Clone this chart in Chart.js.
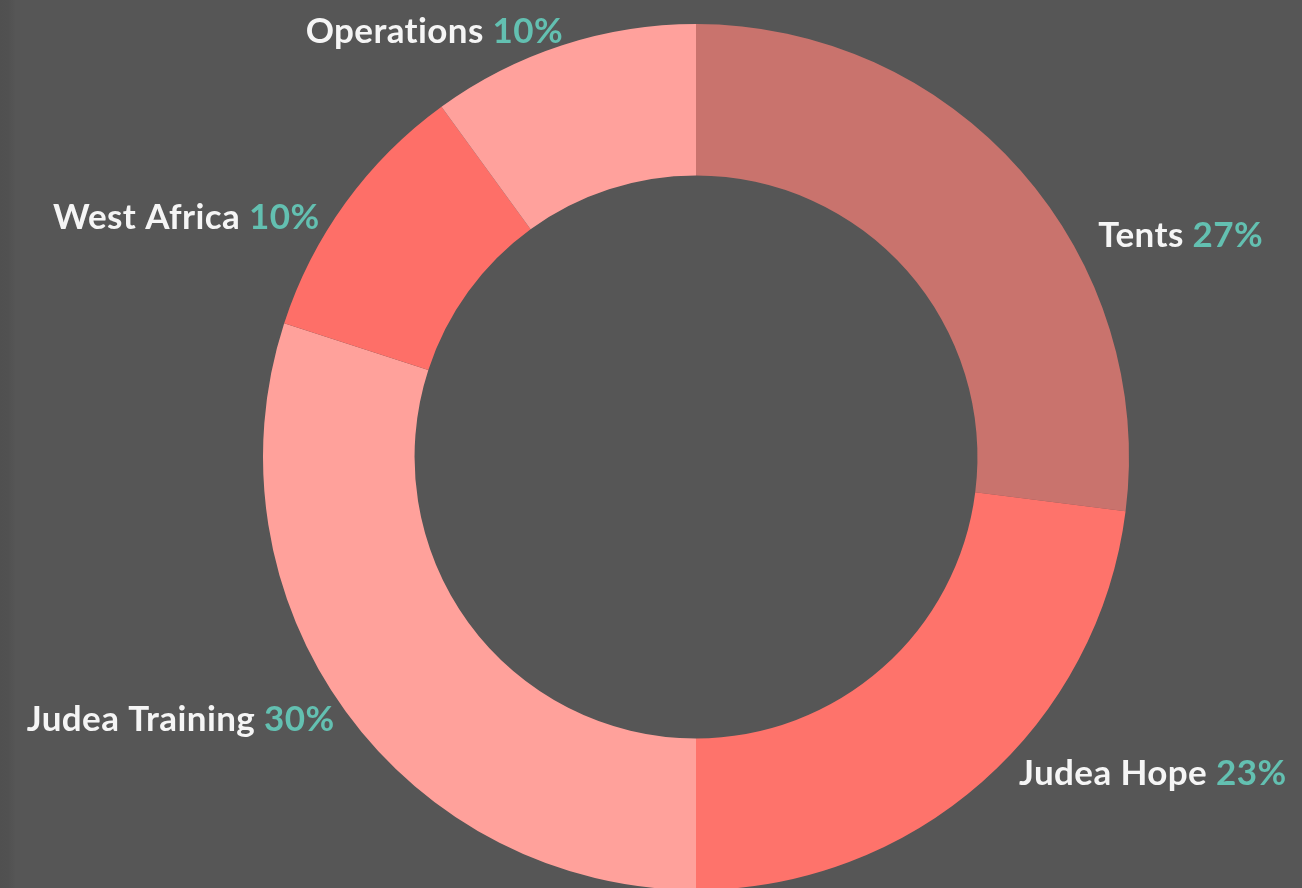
<!DOCTYPE html>
<html>
<head>
<meta charset="utf-8">
<script src="https://cdn.jsdelivr.net/npm/chart.js@4"></script>
<style>
  html, body { margin: 0; padding: 0; }
  body {
    width: 1302px; height: 888px; overflow: hidden;
    background: linear-gradient(to right, #505050 0, #515151 8px, #565656 16px, #565656 100%);
  }
  #wrap { position: relative; width: 1302px; height: 888px; }
</style>
</head>
<body>
<div id="wrap"><canvas id="chart"></canvas></div>
<script>
const categories = ["Tents", "Judea Hope", "Judea Training", "West Africa", "Operations"];
const shares = [27, 23, 30, 10, 10];
const sliceColors = ["#c9736d", "#fe736b", "#ffa19b", "#fe6f68", "#ffa19c"];

// hand placement of each label, relative to the slice's outer mid point
const labelNudge = [[70, 83], [30, -4], [-3, 14], [-18, 32], [4, 7]];

const outsideLabels = {
  id: "outsideLabels",
  afterDatasetsDraw(chart) {
    const ctx = chart.ctx;
    const meta = chart.getDatasetMeta(0);
    const total = shares.reduce((a, b) => a + b, 0);
    ctx.save();
    ctx.font = "bold 35px Lato";
    if ("letterSpacing" in ctx) ctx.letterSpacing = "0.4px";
    ctx.textBaseline = "alphabetic";
    meta.data.forEach((arc, i) => {
      const p = arc.getProps(["x", "y", "startAngle", "endAngle", "outerRadius"], true);
      const mid = (p.startAngle + p.endAngle) / 2;
      const r = p.outerRadius + 10;
      const ax = p.x + Math.cos(mid) * r + labelNudge[i][0];
      const ay = p.y + Math.sin(mid) * r + labelNudge[i][1];
      const name = categories[i] + " ";
      const pct = Math.round(shares[i] / total * 100) + "%";
      const w1 = ctx.measureText(name).width;
      const w2 = ctx.measureText(pct).width;
      const left = Math.cos(mid) >= 0 ? ax : ax - w1 - w2;
      ctx.textAlign = "left";
      ctx.fillStyle = "#f5f5f5";
      ctx.fillText(name, left, ay);
      ctx.fillStyle = "#63c0b1";
      ctx.fillText(pct, left + w1, ay);
    });
    ctx.restore();
  }
};

new Chart(document.getElementById("chart"), {
  type: "doughnut",
  data: {
    labels: categories,
    datasets: [{
      data: shares,
      backgroundColor: sliceColors,
      borderWidth: 0,
      clip: false
    }]
  },
  options: {
    responsive: true,
    maintainAspectRatio: false,
    animation: false,
    radius: 433,
    cutout: "65%",
    layout: { padding: { left: 90, top: 26, right: 0, bottom: 0 } },
    plugins: {
      legend: { display: false },
      tooltip: { enabled: false }
    }
  },
  plugins: [outsideLabels]
});
</script>
</body>
</html>
